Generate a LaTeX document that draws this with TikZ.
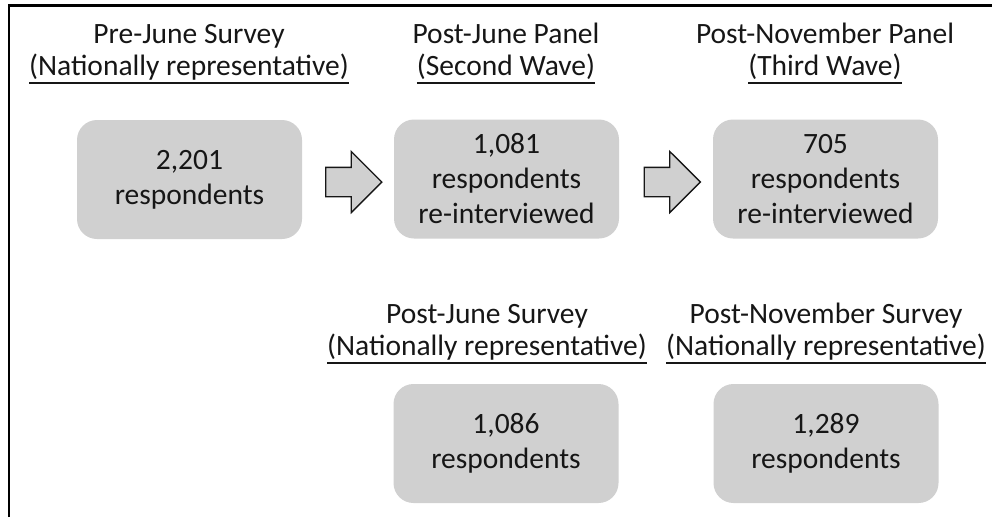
\documentclass[tikz,border=0pt]{standalone}
\usepackage{fontspec}
\setmainfont{Carlito}
\usetikzlibrary{shapes.arrows}
\definecolor{boxgray}{RGB}{208,208,208}
\definecolor{inkgray}{RGB}{22,22,22}
\newcommand\myul[1]{\leavevmode\setbox0\hbox{#1}\rlap{\rule[-8.5pt]{\wd0}{1.4pt}}\box0}
\tikzset{
  countbox/.style={fill=boxgray, rounded corners=20pt, minimum width=225pt, minimum height=119pt,
    align=center, inner sep=0pt, text=inkgray, font=\fontsize{29.5}{35}\selectfont},
  titletext/.style={anchor=base, inner sep=0pt, text=inkgray, font=\fontsize{29.5}{35}\selectfont},
  blockarrow/.style={single arrow, draw=inkgray, fill=boxgray, line width=1.3pt,
    minimum height=56pt, inner xsep=0pt, inner ysep=14pt, single arrow head extend=16pt}
}
\begin{document}
\begin{tikzpicture}[x=1pt, y=-1pt]
\useasboundingbox (0,0) rectangle (992,517);
% frame
\draw[line width=2.6pt, black] (9,517) -- (9,5.5) -- (992,5.5);
% titles
\node[titletext] (t1a) at (189,43) {Pre-June Survey};
\node[titletext] (t1b) at (189,75) {\myul{(Nationally representative)}};
\node[titletext] (t2a) at (506,43) {Post-June Panel};
\node[titletext] (t2b) at (506,75) {\myul{(Second Wave)}};
\node[titletext] (t3a) at (825,43) {Post-November Panel};
\node[titletext] (t3b) at (825,75) {\myul{(Third Wave)}};
\node[titletext] (t4a) at (487,323) {Post-June Survey};
\node[titletext] (t4b) at (487,355) {\myul{(Nationally representative)}};
\node[titletext] (t5a) at (826,323) {Post-November Survey};
\node[titletext] (t5b) at (826,355) {\myul{(Nationally representative)}};
% boxes
\node[countbox] (b1) at (189.5,179.5) {2,201\\respondents};
\node[countbox] (b2) at (506.5,179) {1,081\\respondents\\re-interviewed};
\node[countbox] (b3) at (825.5,179) {705\\respondents\\re-interviewed};
\node[countbox] (b4) at (506,443.5) {1,086\\respondents};
\node[countbox] (b5) at (826,443.5) {1,289\\respondents};
% arrows
\node[blockarrow] (a1) at (346.5,182) {};
\node[blockarrow] (a2) at (665,182) {};
\end{tikzpicture}
\end{document}
